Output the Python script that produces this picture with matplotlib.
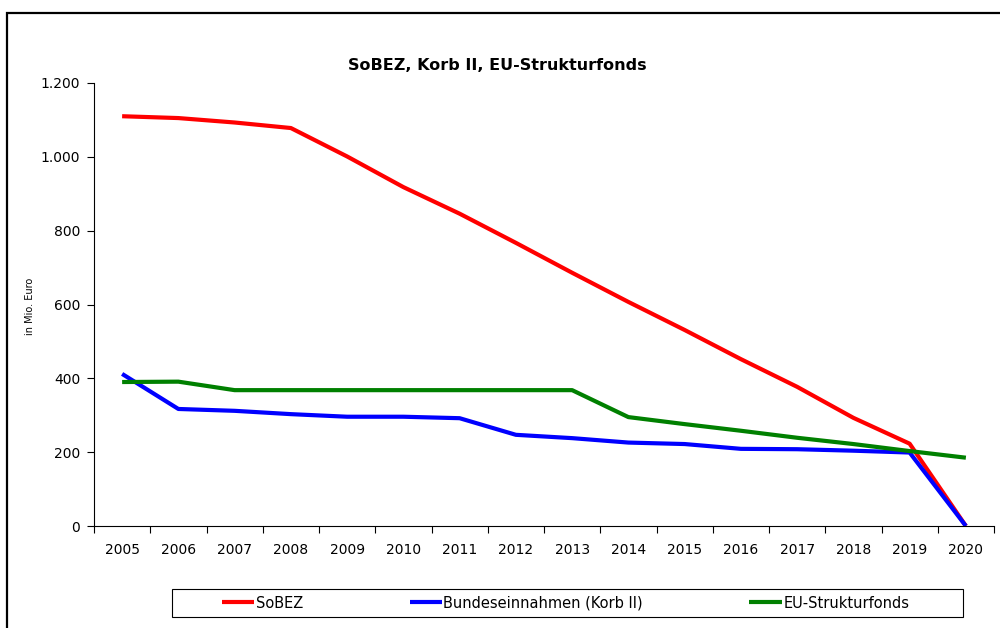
import numpy as np
import matplotlib.pyplot as plt
from matplotlib.patches import Rectangle
from matplotlib.ticker import FuncFormatter, FixedLocator

plt.rcParams['font.family'] = ['DejaVu Sans']

# Daten (in Mio. Euro)
years = [str(y) for y in range(2005, 2021)]
sobez = [1110, 1105, 1093, 1078, 1001, 918, 846, 767, 686, 607, 531, 452, 377, 293, 223, 0]
korb2 = [412, 317, 312, 303, 296, 296, 292, 247, 238, 226, 222, 209, 208, 204, 199, 0]
eu_fonds = [390, 391, 368, 368, 368, 368, 368, 368, 368, 295, 276, 258, 239, 222, 203, 185]

series_names = ['SoBEZ', 'Bundeseinnahmen (Korb II)', 'EU-Strukturfonds']
series_colors = ['#ff0000', '#0000ff', '#008000']

W, H = 1000, 628
fig = plt.figure(figsize=(W / 100, H / 100), dpi=100)

# Achsen: links 94px, rechts 994px, oben 83px, unten 526px
ax = fig.add_axes([94 / W, 1 - 526 / H, 900 / W, 443 / H])

x = np.arange(len(years))
for vals, name, col in zip([sobez, korb2, eu_fonds], series_names, series_colors):
    ax.plot(x, vals, color=col, lw=3, label=name, solid_capstyle='butt', solid_joinstyle='round')

ax.set_xlim(-0.5, len(years) - 0.5)
ax.set_ylim(0, 1200)

# Kategorie-Ticks an den Grenzen, Beschriftungen in der Mitte
ax.xaxis.set_major_locator(FixedLocator(np.arange(-0.5, len(years), 1.0)))
ax.xaxis.set_minor_locator(FixedLocator(x))
ax.set_xticklabels([], minor=False)
ax.set_xticklabels(years, minor=True)
ax.tick_params(axis='x', which='major', length=5, width=0.8, direction='out')
ax.tick_params(axis='x', which='minor', length=0, pad=12, labelsize=10)

ax.set_yticks(np.arange(0, 1201, 200))
ax.yaxis.set_major_formatter(FuncFormatter(lambda v, p: f"{int(v):,}".replace(',', '.')))
ax.tick_params(axis='y', length=5, width=0.8, direction='out', pad=5, labelsize=10)

for s in ['top', 'right']:
    ax.spines[s].set_visible(False)
for s in ['left', 'bottom']:
    ax.spines[s].set_linewidth(0.8)

fig.text(497 / W, 1 - 65 / H, 'SoBEZ, Korb II, EU-Strukturfonds', ha='center', va='center',
         fontsize=11.5, fontweight='bold')
fig.text(30 / W, 1 - 306 / H, 'in Mio. Euro', rotation=90, ha='center', va='center', fontsize=7)

# Rahmen um das Diagramm
fig.patches.append(Rectangle((7 / W, -0.1), 1.1, 1 - 13 / H + 0.1, transform=fig.transFigure,
                             fill=False, ec='black', lw=1.6))
# Legendenrahmen
fig.patches.append(Rectangle((172 / W, 1 - 617 / H), 791 / W, 28 / H, transform=fig.transFigure,
                             fill=False, ec='black', lw=0.8))

leg = fig.legend(loc='center left', bbox_to_anchor=(222 / W, 1 - 603 / H), ncol=3, frameon=False,
                 fontsize=10.5, handlelength=2.2, handletextpad=0.12, columnspacing=7.3,
                 borderpad=0, borderaxespad=0)

fig.savefig('out.png', dpi=100)
